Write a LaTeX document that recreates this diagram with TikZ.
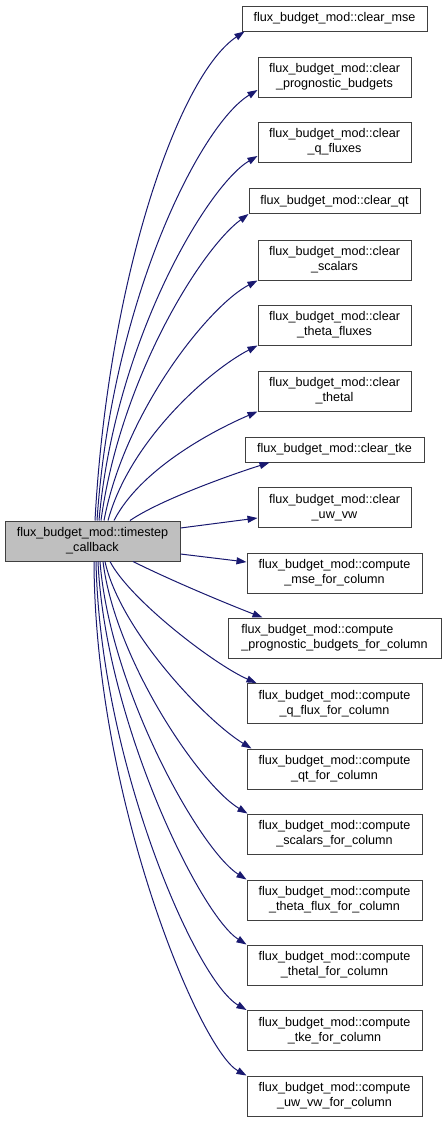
\documentclass[tikz,border=0pt]{standalone}
\usepackage{fontspec}
\setmainfont{Liberation Sans}
\usetikzlibrary{arrows.meta}
\definecolor{mblue}{HTML}{191970}
\definecolor{boxline}{HTML}{404040}
\definecolor{mainfill}{HTML}{BFBFBF}
\tikzset{
  fn/.style={draw=boxline, line width=1pt, fill=white, inner sep=0pt, align=center,
    font=\fontsize{12.6}{15}\selectfont, minimum height=40pt, minimum width=153pt},
  oneline/.style={minimum height=25pt},
  wide/.style={minimum width=175pt},
  call/.style={draw=mblue, line width=1pt, -{Triangle[length=10pt,width=7pt]}, fill=none}
}
\begin{document}
\begin{tikzpicture}[x=1pt,y=-1pt]
\useasboundingbox (0,0) rectangle (447,1122);
\node[fn, wide, fill=mainfill] (main) at (92.5,541) {flux\_budget\_mod::timestep\\\_callback};
\node[fn, oneline, minimum width=185pt] (n1) at (334.5,18.5) {flux\_budget\_mod::clear\_mse};
\node[fn] (n2) at (334.5,77) {flux\_budget\_mod::clear\\\_prognostic\_budgets};
\node[fn] (n3) at (334.5,142) {flux\_budget\_mod::clear\\\_q\_fluxes};
\node[fn, oneline, minimum width=171pt] (n4) at (334.5,201) {flux\_budget\_mod::clear\_qt};
\node[fn] (n5) at (334.5,260) {flux\_budget\_mod::clear\\\_scalars};
\node[fn] (n6) at (334.5,325) {flux\_budget\_mod::clear\\\_theta\_fluxes};
\node[fn] (n7) at (334.5,391) {flux\_budget\_mod::clear\\\_thetal};
\node[fn, oneline, minimum width=179pt] (n8) at (334.5,449.5) {flux\_budget\_mod::clear\_tke};
\node[fn] (n9) at (334.5,507.5) {flux\_budget\_mod::clear\\\_uw\_vw};
\node[fn, wide] (n10) at (334.5,573) {flux\_budget\_mod::compute\\\_mse\_for\_column};
\node[fn, minimum width=213pt, align=left] (n11) at (334.5,638) {flux\_budget\_mod::compute\\\_prognostic\_budgets\_for\_column};
\node[fn, wide] (n12) at (334.5,703.5) {flux\_budget\_mod::compute\\\_q\_flux\_for\_column};
\node[fn, wide] (n13) at (334.5,769) {flux\_budget\_mod::compute\\\_qt\_for\_column};
\node[fn, wide] (n14) at (334.5,834) {flux\_budget\_mod::compute\\\_scalars\_for\_column};
\node[fn, wide] (n15) at (334.5,900) {flux\_budget\_mod::compute\\\_theta\_flux\_for\_column};
\node[fn, wide] (n16) at (334.5,965) {flux\_budget\_mod::compute\\\_thetal\_for\_column};
\node[fn, wide] (n17) at (334.5,1030.5) {flux\_budget\_mod::compute\\\_tke\_for\_column};
\node[fn, wide] (n18) at (334.5,1096) {flux\_budget\_mod::compute\\\_uw\_vw\_for\_column};
% upper calls
\draw[call] ([xshift=2.5pt]main.north) .. controls (108,280) and (178,76) .. ([xshift=3pt]n1.south west);
\draw[call] ([xshift=4.5pt]main.north) .. controls (112,300) and (200,125) .. ([yshift=-13pt]n2.west);
\draw[call] ([xshift=6.5pt]main.north) .. controls (115,340) and (208,185) .. ([yshift=-14pt]n3.west);
\draw[call] ([xshift=8.5pt]main.north) .. controls (120,380) and (200,250) .. (n4.south west);
\draw[call] ([xshift=11.5pt]main.north) .. controls (125,410) and (210,305) .. (n5.south west);
\draw[call] ([xshift=15.5pt]main.north) .. controls (130,440) and (210,370) .. (n6.south west);
\draw[call] ([xshift=21.5pt]main.north) .. controls (140,470) and (210,432) .. (n7.south west);
\draw[call] ([xshift=37.5pt]main.north) .. controls (160,500) and (230,475) .. ([xshift=25pt]n8.south west);
% side calls
\draw[call] ([yshift=13pt]main.east) -- ([yshift=-10.5pt]n9.west);
\draw[call] ([yshift=-13pt]main.east) -- ([yshift=11pt]n10.west);
\draw[call] ([xshift=40.5pt]main.south) .. controls (170,580) and (225,603) .. ([xshift=35pt]n11.north west);
% lower calls
\draw[call] ([xshift=17.5pt]main.south) .. controls (130,600) and (215,665) .. ([xshift=10pt]n12.north west);
\draw[call] ([xshift=12.5pt]main.south) .. controls (120,630) and (205,720) .. ([xshift=5pt]n13.north west);
\draw[call] ([xshift=10.5pt]main.south) .. controls (115,660) and (200,785) .. ([xshift=1pt]n14.north west);
\draw[call] ([xshift=7.5pt]main.south) .. controls (110,690) and (200,850) .. (n15.north west);
\draw[call] ([xshift=5.5pt]main.south) .. controls (105,720) and (200,915) .. (n16.north west);
\draw[call] ([xshift=3.5pt]main.south) .. controls (100,760) and (195,980) .. (n17.north west);
\draw[call] ([xshift=1.5pt]main.south) .. controls (95,800) and (200,1050) .. (n18.north west);
\end{tikzpicture}
\end{document}
